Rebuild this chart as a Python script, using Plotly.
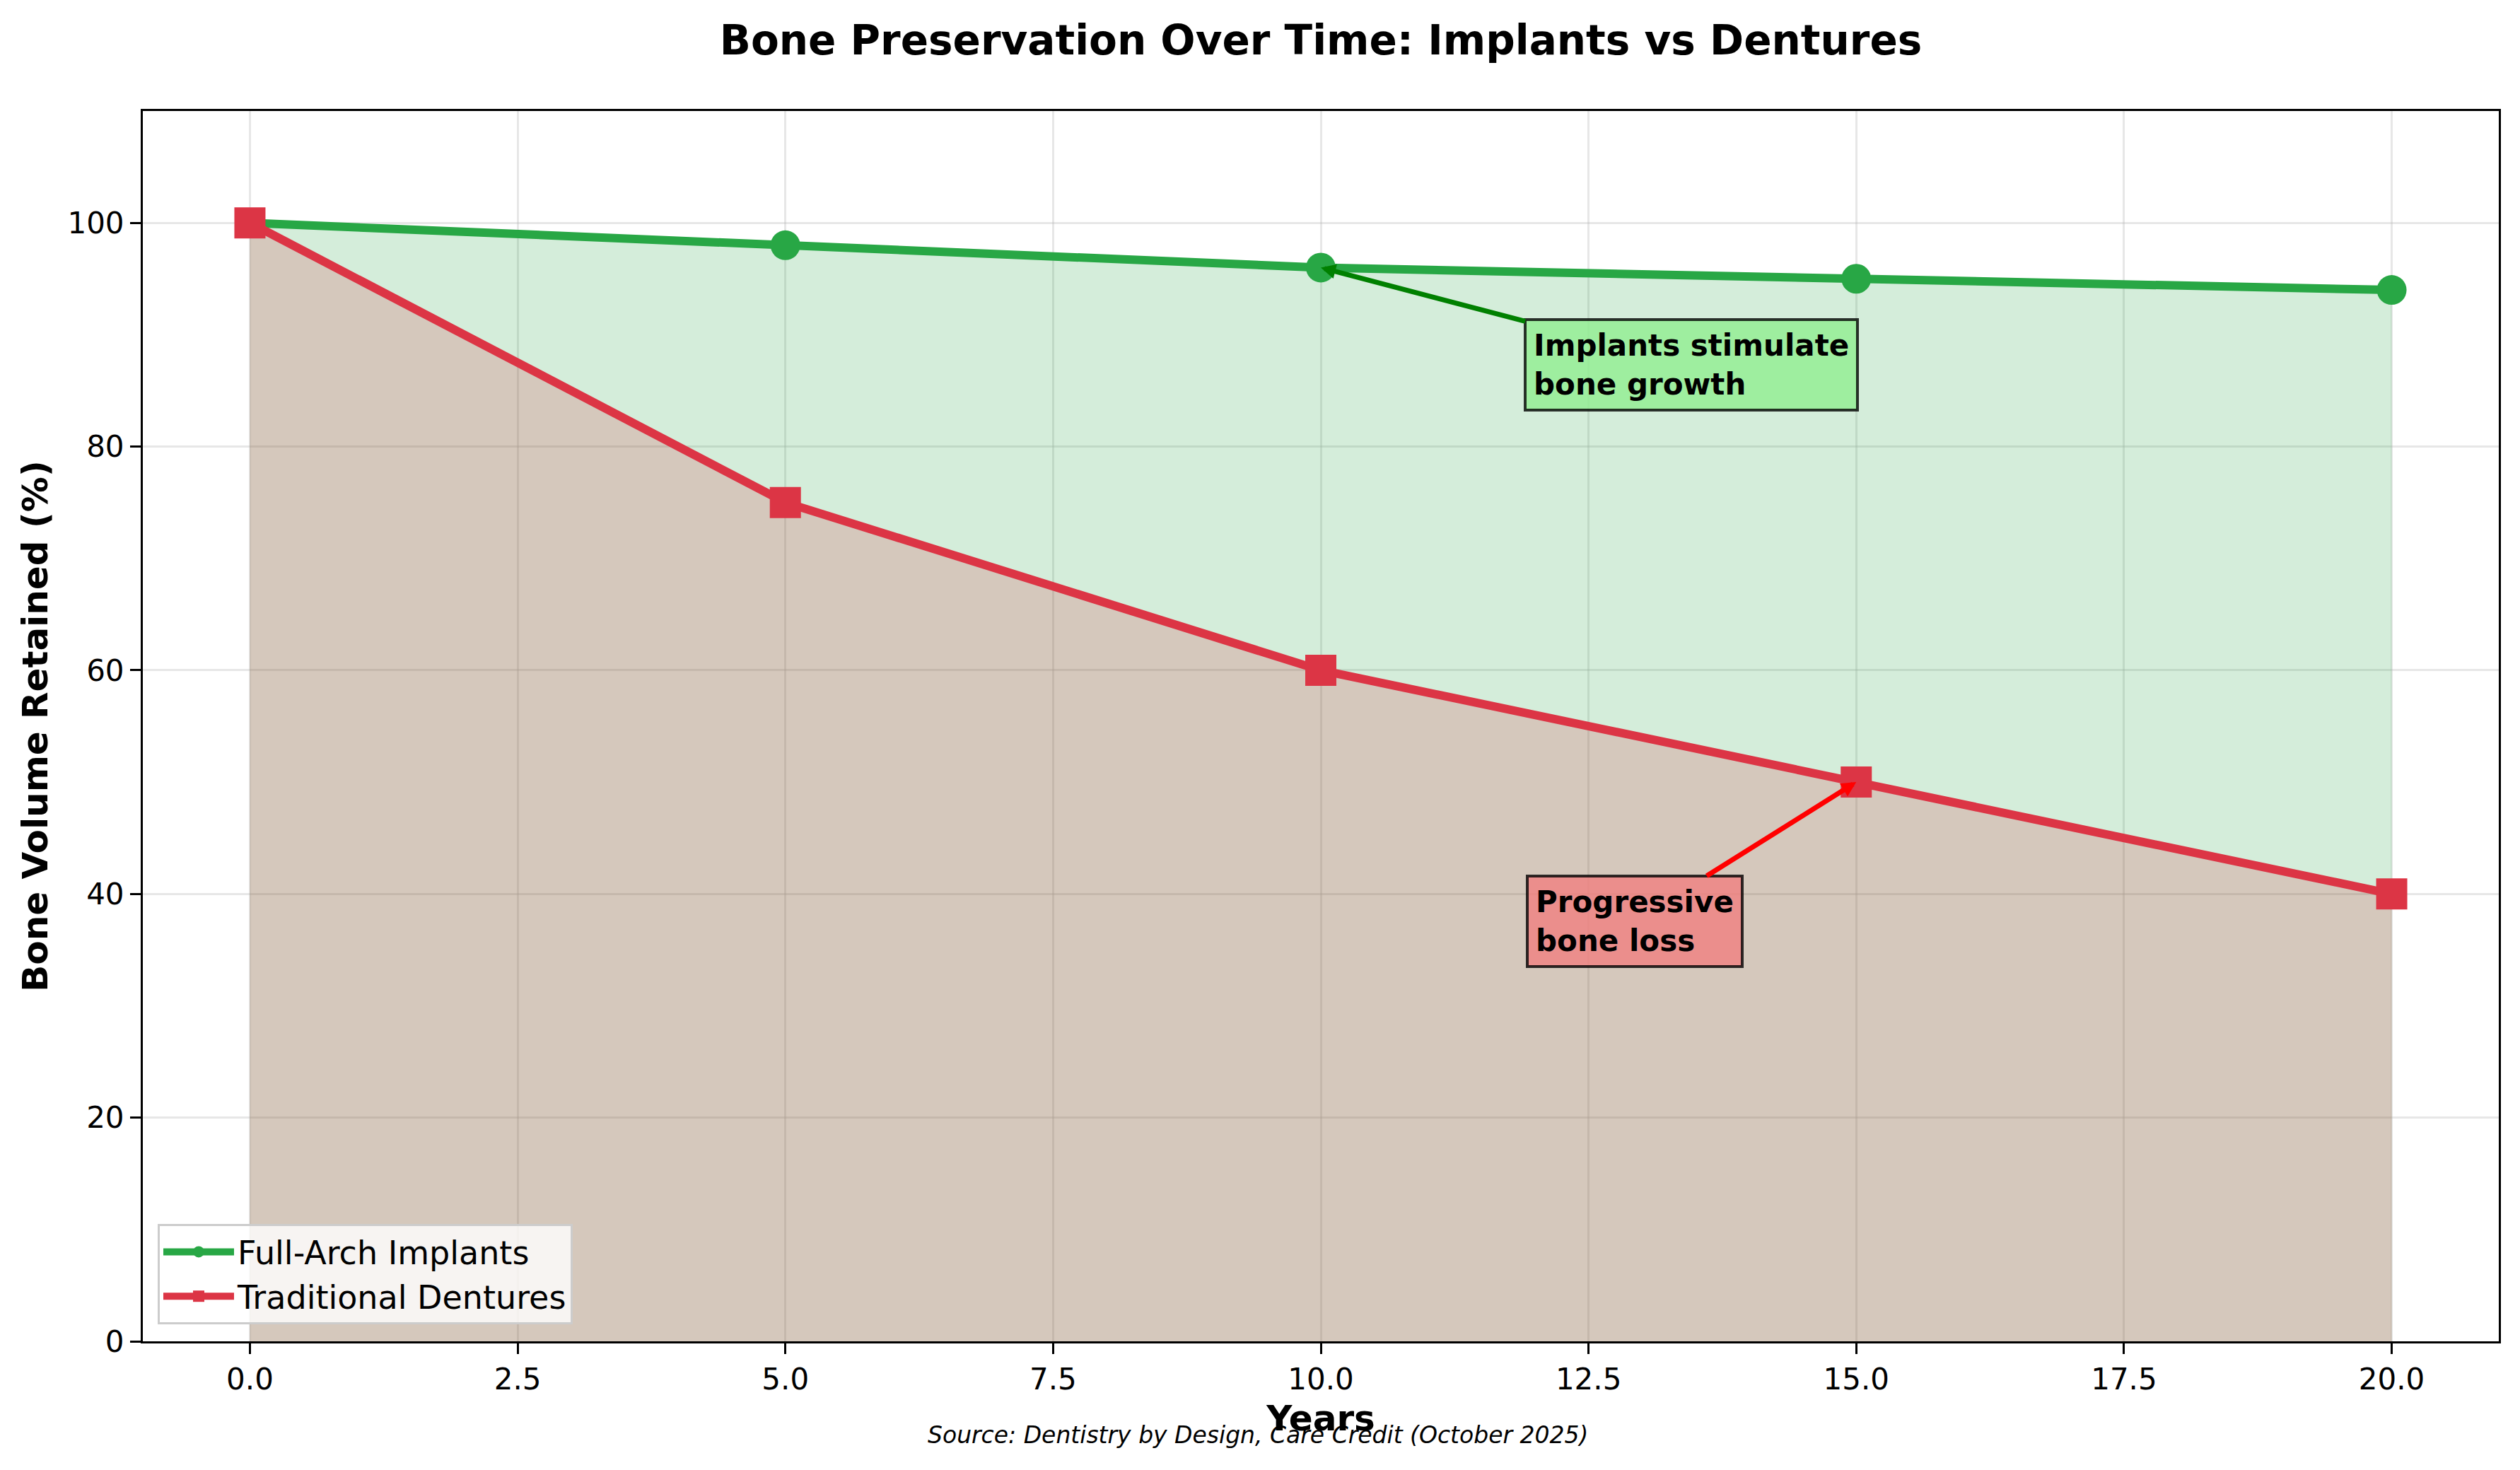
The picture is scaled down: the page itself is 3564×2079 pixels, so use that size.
import plotly.graph_objects as go

years = [0, 5, 10, 15, 20]
implants = [100, 98, 96, 95, 94]
dentures = [100, 75, 60, 50, 40]

x_ticks = [0, 2.5, 5, 7.5, 10, 12.5, 15, 17.5, 20]
x_tick_labels = ["0.0", "2.5", "5.0", "7.5", "10.0", "12.5", "15.0", "17.5", "20.0"]
y_ticks = [0, 20, 40, 60, 80, 100]

GREEN = "#28a745"
RED = "#dc3545"
FONT = "DejaVu Sans"

fig = go.Figure()

fig.add_trace(go.Scatter(x=years, y=implants, mode="lines", fill="tozeroy",
                         fillcolor="rgba(40,167,69,0.2)",
                         line=dict(color="rgba(40,167,69,0.2)", width=3),
                         showlegend=False, hoverinfo="skip"))
fig.add_trace(go.Scatter(x=years, y=dentures, mode="lines", fill="tozeroy",
                         fillcolor="rgba(220,53,69,0.2)",
                         line=dict(color="rgba(220,53,69,0.2)", width=3),
                         showlegend=False, hoverinfo="skip"))

fig.add_trace(go.Scatter(x=years, y=implants, mode="lines+markers",
                         name="Full-Arch Implants",
                         line=dict(color=GREEN, width=12),
                         marker=dict(symbol="circle", size=42, color=GREEN)))
fig.add_trace(go.Scatter(x=years, y=dentures, mode="lines+markers",
                         name="Traditional Dentures",
                         line=dict(color=RED, width=12),
                         marker=dict(symbol="square", size=44, color=RED)))

fig.add_annotation(x=10, y=96, ax=13.46, ay=87.3, axref="x", ayref="y",
                   xref="x", yref="y",
                   text="<b>Implants stimulate<br>bone growth</b>", align="left",
                   showarrow=True, arrowhead=2, arrowsize=0.6, arrowwidth=7,
                   arrowcolor="green",
                   font=dict(family=FONT, size=42, color="black"),
                   bgcolor="rgba(144,238,144,0.8)", bordercolor="rgba(0,0,0,0.8)",
                   borderwidth=4, borderpad=10)
fig.add_annotation(x=15, y=50, ax=12.93, ay=37.57, axref="x", ayref="y",
                   xref="x", yref="y",
                   text="<b>Progressive<br>bone loss</b>", align="left",
                   showarrow=True, arrowhead=2, arrowsize=0.6, arrowwidth=7,
                   arrowcolor="red",
                   font=dict(family=FONT, size=42, color="black"),
                   bgcolor="rgba(240,128,128,0.8)", bordercolor="rgba(0,0,0,0.8)",
                   borderwidth=4, borderpad=10)

fig.add_annotation(x=0.4733, y=-0.0764, xref="paper", yref="paper",
                   text="<i>Source: Dentistry by Design, Care Credit (October 2025)</i>",
                   showarrow=False, font=dict(family=FONT, size=33, color="black"),
                   xanchor="center", yanchor="middle")

axis_common = dict(showline=True, linecolor="black", linewidth=3, mirror=True,
                   ticks="outside", ticklen=15, tickwidth=3, tickcolor="black",
                   showgrid=True, gridcolor="rgba(176,176,176,0.3)", gridwidth=3,
                   zeroline=False, tickfont=dict(family=FONT, size=42, color="black"))

fig.update_xaxes(range=[-1, 21], tickvals=x_ticks, ticktext=x_tick_labels,
                 title=dict(text="<b>Years</b>", font=dict(family=FONT, size=50, color="black"),
                            standoff=14),
                 **axis_common)
fig.update_yaxes(range=[0, 110], tickvals=y_ticks,
                 title=dict(text="<b>Bone Volume Retained (%)</b>",
                            font=dict(family=FONT, size=50, color="black"), standoff=12),
                 **axis_common)

fig.update_layout(
    width=3564, height=2079,
    margin=dict(l=202, r=30, t=157, b=182),
    plot_bgcolor="white", paper_bgcolor="white",
    font=dict(family=FONT, color="black"),
    title=dict(text="<b>Bone Preservation Over Time: Implants vs Dentures</b>",
               font=dict(family=FONT, size=58, color="black"),
               x=0.5, xref="paper", y=1 - 57 / 2079, yref="container",
               xanchor="center", yanchor="middle"),
    legend=dict(x=0.0063, y=0.0138, xanchor="left", yanchor="bottom",
                bgcolor="rgba(255,255,255,0.8)", bordercolor="rgb(204,204,204)",
                borderwidth=3, font=dict(family=FONT, size=46, color="black"),
                itemsizing="trace", itemwidth=100, tracegroupgap=0),
)

fig.write_html("out.html")
